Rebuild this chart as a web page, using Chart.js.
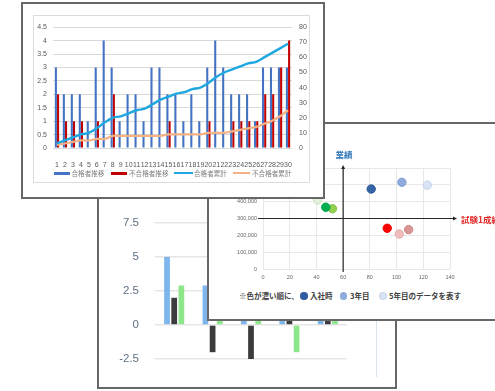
<!DOCTYPE html>
<html lang="ja">
<head>
<meta charset="utf-8">
<script src="https://cdn.jsdelivr.net/npm/chart.js@4.4.1/dist/chart.umd.min.js"></script>
<style>
html,body{margin:0;padding:0;background:#fff;}
body{width:495px;height:391px;position:relative;overflow:hidden;font-family:"Liberation Sans","Noto Sans CJK JP",sans-serif;}
.frame{position:absolute;box-sizing:border-box;border:2px solid #676767;background:#fff;}
.cv{position:absolute;}
.cv canvas{display:block;}
.lbl{position:absolute;white-space:nowrap;line-height:1;}
.sw{position:absolute;}
.dot{position:absolute;width:7.5px;height:7.5px;border-radius:50%;box-sizing:border-box;}
</style>
</head>
<body>

<!-- back panel: grouped bar chart -->
<div class="frame" style="left:97px;top:150px;width:300px;height:239px;z-index:1"></div>
<div style="position:absolute;left:376px;top:250px;width:1px;height:127px;background:#dbe3ec;z-index:2"></div>
<div class="cv" style="left:99px;top:200px;z-index:2"><canvas id="groupChart" width="296" height="187"></canvas></div>

<!-- middle panel: scatter chart -->
<div class="frame" style="left:207px;top:122px;width:300px;height:199px;z-index:3"></div>
<div class="cv" style="left:209px;top:124px;z-index:4"><canvas id="scatterChart" width="286" height="162"></canvas></div>
<div class="lbl" style="left:335.5px;top:149.5px;font-size:8.5px;font-weight:bold;color:#2E75B6;z-index:5;font-family:'Noto Sans CJK JP',sans-serif;">業績</div>
<div class="lbl" style="left:461px;top:214.5px;font-size:8.5px;font-weight:bold;color:#E02A2A;z-index:5;font-family:'Noto Sans CJK JP',sans-serif;">試験1成績</div>
<div id="scatterLegend" style="position:absolute;left:0;top:0;z-index:5;font-family:'Noto Sans CJK JP',sans-serif;font-weight:bold;color:#404040;font-size:7.5px;">
  <div class="lbl" style="left:239px;top:292px;">※色が濃い順に、</div>
  <div class="dot" style="left:300px;top:292.3px;background:#2F5C9E;"></div>
  <div class="lbl" style="left:310px;top:292px;">入社時</div>
  <div class="dot" style="left:339.5px;top:292.3px;background:#8FAADC;"></div>
  <div class="lbl" style="left:350px;top:292px;">3年目</div>
  <div class="dot" style="left:379px;top:292.3px;background:#DAE3F3;border:1px solid #C3D2EA;"></div>
  <div class="lbl" style="left:389px;top:292px;">5年目のデータを表す</div>
</div>

<!-- front panel: daily pass / fail chart -->
<div class="frame" style="left:21px;top:2px;width:304px;height:197px;z-index:6"></div>
<div style="position:absolute;left:33px;top:15px;width:277px;height:168px;box-sizing:border-box;border:1px solid #dcdcdc;z-index:7"></div>
<div class="cv" style="left:34px;top:16px;z-index:8"><canvas id="passChart" width="284" height="152"></canvas></div>
<div style="position:absolute;left:0;top:0;z-index:9;font-family:'Noto Sans CJK JP',sans-serif;color:#7f7f7f;font-size:6.6px;">
  <div class="sw" style="left:54px;top:171.5px;width:16px;height:3px;background:#4472C4;"></div>
  <div class="lbl" style="left:71.5px;top:169.7px;">合格者推移</div>
  <div class="sw" style="left:111px;top:171.5px;width:16px;height:3px;background:#C00000;"></div>
  <div class="lbl" style="left:129px;top:169.7px;">不合格者推移</div>
  <div class="sw" style="left:174px;top:172px;width:19px;height:2px;background:#1FA8E0;"></div>
  <div class="lbl" style="left:194px;top:169.7px;">合格者累計</div>
  <div class="sw" style="left:233px;top:172px;width:17px;height:2px;background:#F4B183;"></div>
  <div class="lbl" style="left:252px;top:169.7px;">不合格者累計</div>
</div>

<script>
// ---- front chart data: daily counts and running totals ----
const days = ['1','2','3','4','5','6','7','8','9','10','11','12','13','14','15',
              '16','17','18','19','20','21','22','23','24','25','26','27','28','29','30'];
const passedDaily = [3,2,2,2,1,3,4,3,1,2,2,1,3,3,2,2,1,2,1,3,4,3,2,2,2,1,3,3,3,3];
const failedDaily = [2,1,1,1,0,1,0,2,0,0,0,0,0,0,1,0,0,0,0,1,0,0,1,1,1,1,2,2,3,4];
const passedTotal = [3,5,7,9,10,13,17,20,21,23,25,26,29,32,34,36,37,39,40,43,47,50,52,54,56,57,60,63,66,69];
const failedTotal = [2,3,4,5,5,6,6,8,8,8,8,8,8,8,9,9,9,9,9,10,10,10,11,12,13,14,16,18,21,25];
const seriesNames = ['合格者推移','不合格者推移','合格者累計','不合格者累計'];

// ---- back chart data: five groups of three bars ----
const groupNames = ['A','B','C','D','E'];
const groupBlue  = [5, 2.9, 1.8, 2.2, 1.5];
const groupDark  = [2, -2, -3, 0.6, 1.0];
const groupGreen = [2.9, 1.2, 0.8, -2, 2.0];

// ---- scatter data: test score vs. sales, three stages per person ----
const stageNames = ['入社時','3年目','5年目'];
const blueScore  = [81, 104, 123];
const blueSales  = [475000, 515000, 498000];
const greenScore = [47, 52, 41];
const greenSales = [367000, 358000, 410000];
const redScore   = [93, 109, 102];
const redSales   = [242000, 234000, 208000];

Chart.defaults.font.family = "'Liberation Sans','Noto Sans CJK JP',sans-serif";
Chart.defaults.animation = false;
Chart.defaults.responsive = false;
Chart.defaults.plugins.legend.display = false;
Chart.defaults.plugins.tooltip.enabled = false;

// plain numbers without trailing ".0"
const plainNumber = v => String(Math.round(v * 10) / 10);

// front chart
new Chart(document.getElementById('passChart'), {
  type: 'bar',
  data: {
    labels: days,
    datasets: [
      { type:'line', label:seriesNames[2], data:passedTotal, yAxisID:'y1', borderColor:'#1FA8E0',
        borderWidth:2.4, pointRadius:0, tension:0.35, order:0 },
      { type:'line', label:seriesNames[3], data:failedTotal, yAxisID:'y1', borderColor:'#F4B183',
        borderWidth:2.2, pointRadius:0, tension:0.35, order:0 },
      { label:seriesNames[0], data:passedDaily, yAxisID:'y', backgroundColor:'#4472C4',
        categoryPercentage:0.55, barPercentage:0.95, order:1 },
      { label:seriesNames[1], data:failedDaily, yAxisID:'y', backgroundColor:'#C00000',
        categoryPercentage:0.55, barPercentage:0.95, order:1 }
    ]
  },
  options: {
    layout: { padding: { top: 9 } },
    scales: {
      x: { grid:{display:false}, border:{display:false},
           ticks:{font:{size:7}, color:'#595959', autoSkip:false, maxRotation:0, padding:5},
           afterFit(s){ s.height = 20; } },
      y: { position:'left', min:0, max:4.5, border:{display:false},
           grid:{color:'#d9d9d9', drawTicks:false},
           ticks:{stepSize:0.5, font:{size:7}, color:'#595959', padding:6, callback: plainNumber},
           afterFit(s){ s.width = 19; } },
      y1:{ position:'right', min:0, max:80, border:{display:false},
           grid:{display:false, drawTicks:false},
           ticks:{stepSize:10, font:{size:7}, color:'#595959', padding:7, callback: plainNumber},
           afterFit(s){ s.width = 26; } }
    }
  }
});

// back chart
new Chart(document.getElementById('groupChart'), {
  type: 'bar',
  data: {
    labels: groupNames,
    datasets: [
      { data: groupBlue,  backgroundColor:'#7EB5EC' },
      { data: groupDark,  backgroundColor:'#3B3B3D' },
      { data: groupGreen, backgroundColor:'#8EE68A' }
    ]
  },
  options: {
    categoryPercentage: 0.56,
    barPercentage: 0.8,
    layout: { padding: { top: 16, right: 48, bottom: 28 } },
    scales: {
      x: { display:false },
      y: { min:-2.5, max:7.5, border:{display:false},
           grid:{color:'#e6e6e6', lineWidth:1.5, drawTicks:false},
           ticks:{stepSize:2.5, font:{size:11.5}, color:'#5f6f86', padding:16},
           afterFit(s){ s.width = 56; } }
    }
  }
});

// crossing axes with arrowheads through (60, 300,000)
const crossAxes = {
  id: 'crossAxes',
  beforeDatasetsDraw(chart) {
    const { ctx, scales: { x, y } } = chart;
    const cx = x.getPixelForValue(60), cy = y.getPixelForValue(300000);
    const top = y.getPixelForValue(600000) - 3, bottom = y.getPixelForValue(0) + 3;
    const left = x.getPixelForValue(0) - 5, right = x.getPixelForValue(140) + 7;
    ctx.save();
    ctx.strokeStyle = '#262626'; ctx.fillStyle = '#262626'; ctx.lineWidth = 1.2;
    ctx.beginPath();
    ctx.moveTo(cx, bottom); ctx.lineTo(cx, top + 3);
    ctx.moveTo(left, cy); ctx.lineTo(right - 3, cy);
    ctx.stroke();
    ctx.beginPath(); ctx.moveTo(cx, top); ctx.lineTo(cx - 2, top + 4); ctx.lineTo(cx + 2, top + 4); ctx.closePath(); ctx.fill();
    ctx.beginPath(); ctx.moveTo(right, cy); ctx.lineTo(right - 4, cy - 2); ctx.lineTo(right - 4, cy + 2); ctx.closePath(); ctx.fill();
    ctx.restore();
  }
};

const stageFill = {
  blue:  ['#3565A8', '#8FAADC', '#DAE3F3'],
  green: ['#00B050', '#92D050', '#E2EFDA'],
  red:   ['#FF0000', '#DA9694', '#F0BDBD']
};
const stageEdge = {
  blue:  ['#2F5A96', '#84A0D4', '#C3D2EA'],
  green: ['#00A048', '#86C448', '#CFE2C2'],
  red:   ['#EE0000', '#CF8886', '#E6AEAE']
};
function pointsFor(score, sales, key) {
  return stageNames.map((name, i) => ({
    label: name,
    data: [{ x: score[i], y: sales[i] }],
    backgroundColor: stageFill[key][i],
    borderColor: stageEdge[key][i],
    borderWidth: 1,
    pointRadius: 4.2
  }));
}

new Chart(document.getElementById('scatterChart'), {
  type: 'scatter',
  data: {
    datasets: [
      ...pointsFor(blueScore, blueSales, 'blue'),
      ...pointsFor(greenScore, greenSales, 'green'),
      ...pointsFor(redScore, redSales, 'red')
    ]
  },
  options: {
    layout: { padding: { top: 44, right: 45 } },
    scales: {
      x: { min:0, max:140, border:{display:false},
           grid:{color:'#e8e8e8', drawTicks:false},
           ticks:{stepSize:20, font:{size:5.5}, color:'#666', padding:5},
           afterFit(s){ s.height = 17; } },
      y: { min:0, max:600000, border:{display:false},
           grid:{color:'#e8e8e8', drawTicks:false},
           ticks:{stepSize:100000, font:{size:5.5}, color:'#666', padding:6,
                  callback: v => v.toLocaleString('en-US')},
           afterFit(s){ s.width = 54; } }
    }
  },
  plugins: [crossAxes]
});
</script>
</body>
</html>
